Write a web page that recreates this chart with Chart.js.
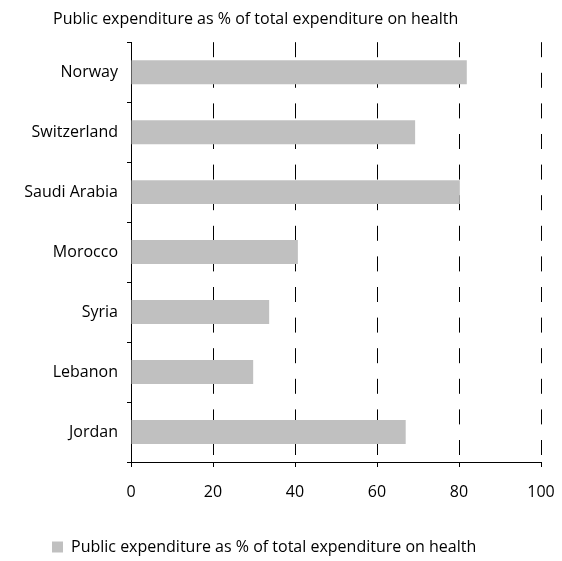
<!DOCTYPE html>
<html>
<head>
<meta charset="utf-8">
<script src="https://cdn.jsdelivr.net/npm/chart.js@4/dist/chart.umd.min.js"></script>
<style>
  html,body{margin:0;padding:0;background:#fff;}
  #wrap{width:562px;height:561px;}
</style>
</head>
<body>
<div id="wrap"><canvas id="chart"></canvas></div>
<script>
const countries = ['Norway','Switzerland','Saudi Arabia','Morocco','Syria','Lebanon','Jordan'];
const publicShare = [81.9, 69.3, 80.2, 40.7, 33.7, 29.8, 67.0];
const seriesName = 'Public expenditure as % of total expenditure on health';
const xTicks = [0, 20, 40, 60, 80, 100];

Chart.defaults.font.family = '"Open Sans", sans-serif';
Chart.defaults.font.size = 16;
Chart.defaults.color = '#000';

// title and legend sit left of the canvas centre, so pin their positions
const pinBlocks = {
  id:'pinBlocks',
  afterLayout(chart){
    chart.titleBlock.left = 53;
    chart.legend.left = 46;
    chart.legend.top += 4;
  }
};

new Chart(document.getElementById('chart'), {
  type:'bar',
  data:{
    labels:countries,
    datasets:[{
      label:seriesName,
      data:publicShare,
      backgroundColor:'#c0c0c0',
      borderWidth:0,
      categoryPercentage:0.4,
      barPercentage:1
    }]
  },
  options:{
    indexAxis:'y',
    responsive:true,
    maintainAspectRatio:false,
    animation:false,
    layout:{padding:{left:5,right:21,top:0,bottom:0}},
    scales:{
      x:{
        min:0,max:100,
        afterBuildTicks:(s)=>{s.ticks=xTicks.map(v=>({value:v}));},
        grid:{color:'#000',lineWidth:1,tickLength:5,tickColor:'#000'},
        border:{display:true,color:'#000',width:1,dash:[15,15.6]},
        ticks:{padding:16,maxRotation:0},
        afterFit:(s)=>{s.height=67;s.paddingLeft=0;s.paddingRight=0;}
      },
      y:{
        grid:{display:true,drawOnChartArea:false,tickLength:4,tickColor:'#000'},
        border:{display:true,color:'#000',width:1},
        ticks:{padding:9},
        afterFit:(s)=>{s.width=131-5;}
      }
    },
    plugins:{
      title:{display:true,text:seriesName,align:'start',font:{size:16,weight:'normal'},color:'#000',padding:{top:10,bottom:13}},
      legend:{
        position:'bottom',align:'start',
        labels:{boxWidth:11,boxHeight:11,color:'#000',padding:6}
      },
      tooltip:{enabled:false}
    }
  },
  plugins:[pinBlocks]
});
</script>
</body>
</html>
